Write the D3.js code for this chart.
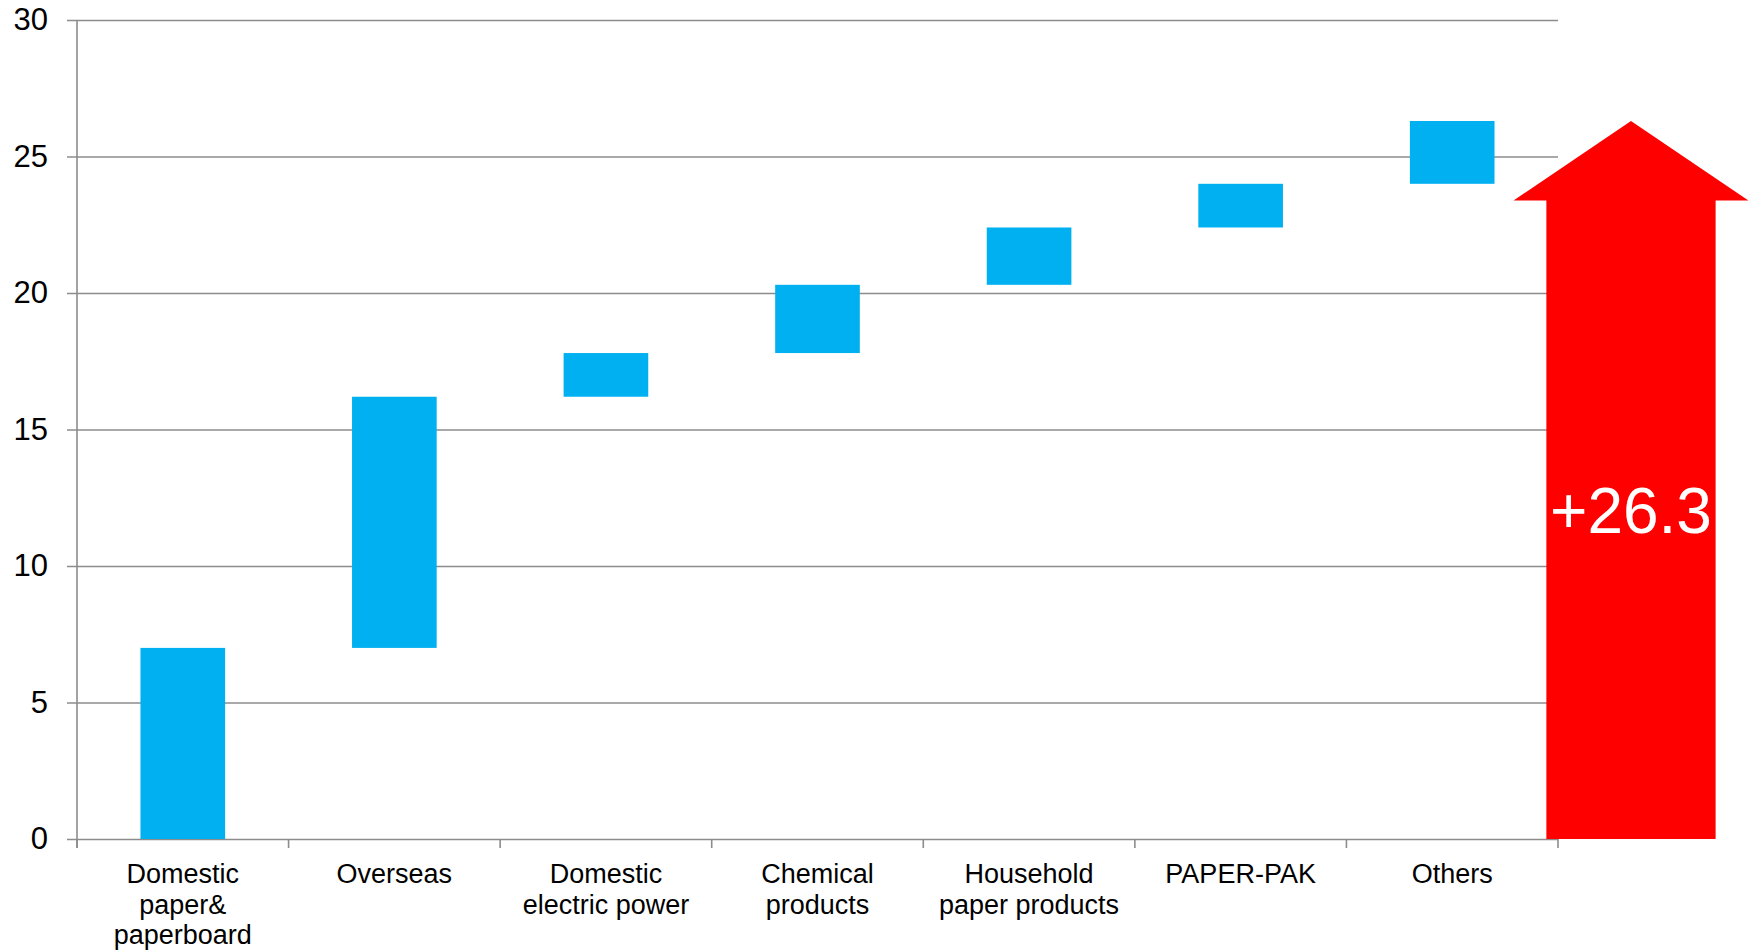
<!DOCTYPE html>
<html>
<head>
<meta charset="utf-8">
<script src="https://cdn.jsdelivr.net/npm/d3@7"></script>
<style>
  html, body { margin: 0; padding: 0; background: #fff; }
  svg { display: block; font-family: "Liberation Sans", Arial, sans-serif; }
</style>
</head>
<body>
<svg id="chart" width="1752" height="952"></svg>
<script>
// ---- data ----
const categories = [
  ["Domestic", "paper&", "paperboard"],
  ["Overseas"],
  ["Domestic", "electric power"],
  ["Chemical", "products"],
  ["Household", "paper products"],
  ["PAPER-PAK"],
  ["Others"]
];
const deltas = [7.0, 9.2, 1.6, 2.5, 2.1, 1.6, 2.3];
const totalLabel = "+26.3";
const yTicks = [0, 5, 10, 15, 20, 25, 30];

// ---- layout ----
const plotLeft = 77, plotRight = 1558, plotTop = 20, plotBottom = 839;
const svg = d3.select("#chart");

const x = d3.scaleBand().domain(d3.range(categories.length)).range([plotLeft, plotRight]).paddingInner(0.6).paddingOuter(0.3);
const y = d3.scaleLinear().domain([0, 30]).range([plotBottom, plotTop]);

let cum = 0;
const bars = deltas.map((d, i) => { const s = cum; cum += d; return { i, start: s, end: cum }; });
const total = cum;

// gridlines + y axis
const yAxis = d3.axisLeft(y).tickValues(yTicks).tickSize(10).tickPadding(19).tickFormat(d3.format("d"));
const gy = svg.append("g").attr("transform", `translate(${plotLeft},0)`).call(yAxis);
gy.select(".domain").remove();
gy.selectAll(".tick line").attr("stroke", "#8c8c8c").attr("stroke-width", 1.6)
  .attr("x1", -10).attr("x2", plotRight - plotLeft);
gy.selectAll(".tick text").attr("font-size", 31).attr("fill", "#000")
  .attr("font-family", "'Liberation Sans', Arial, sans-serif");

// y axis line
svg.append("line").attr("x1", plotLeft).attr("x2", plotLeft).attr("y1", y(30)).attr("y2", plotBottom + 9)
  .attr("stroke", "#8c8c8c").attr("stroke-width", 1.6);

// x ticks at band boundaries
const bw = (plotRight - plotLeft) / categories.length;
const bounds = d3.range(categories.length + 1).map(k => plotLeft + k * bw);
svg.append("g").selectAll("line").data(bounds).join("line")
  .attr("x1", d => d).attr("x2", d => d).attr("y1", plotBottom).attr("y2", plotBottom + 9)
  .attr("stroke", "#8c8c8c").attr("stroke-width", 1.6);

// bars
svg.append("g").selectAll("rect").data(bars).join("rect")
  .attr("x", d => x(d.i)).attr("width", x.bandwidth())
  .attr("y", d => y(d.end)).attr("height", d => y(d.start) - y(d.end))
  .attr("fill", "#00B0F0");

// x labels
const lab = svg.append("g").selectAll("text").data(categories).join("text")
  .attr("text-anchor", "middle").attr("font-size", 27).attr("fill", "#000")
  .attr("x", (d, i) => x(i) + x.bandwidth() / 2).attr("y", 883);
lab.selectAll("tspan").data(d => d).join("tspan")
  .attr("x", function () { return this.parentNode.getAttribute("x"); })
  .attr("dy", (d, j) => j === 0 ? 0 : 30.5)
  .text(d => d);

// red total arrow
const cx = plotRight + 0.345 * bw;
const bodyHalf = 0.4 * bw, headHalf = 0.555 * bw;
const apexY = y(total), shoulderY = apexY + 79.5;
const pts = [
  [cx, apexY], [cx + headHalf, shoulderY], [cx + bodyHalf, shoulderY],
  [cx + bodyHalf, y(0)], [cx - bodyHalf, y(0)], [cx - bodyHalf, shoulderY],
  [cx - headHalf, shoulderY]
];
svg.append("path").attr("d", d3.line()(pts) + "Z").attr("fill", "#FF0000");

svg.append("text").attr("x", cx).attr("y", 533).attr("text-anchor", "middle")
  .attr("font-size", 64).attr("fill", "#fff").text(totalLabel);
</script>
</body>
</html>
